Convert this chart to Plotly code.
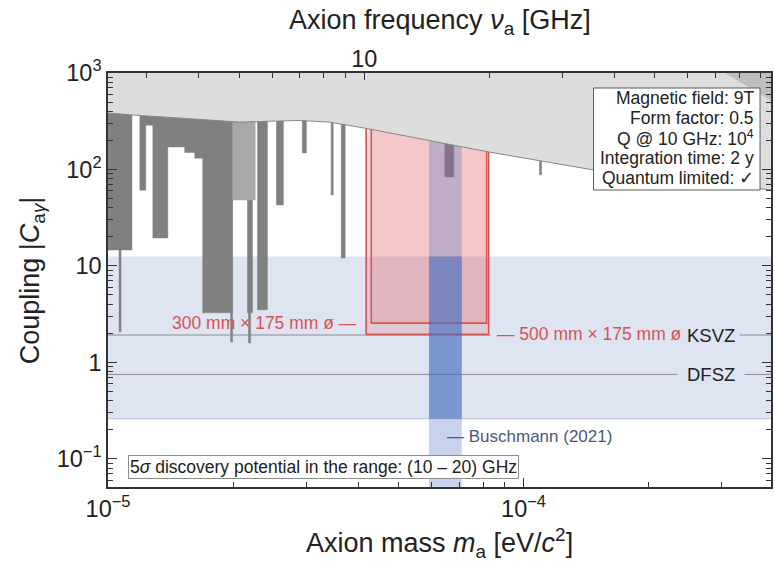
import numpy as np
import plotly.graph_objects as go

EV_PER_GHZ = 4.135667e-6  # axion mass [eV] per GHz of frequency

# plotted extents
m_min, m_max = 1.0e-5, 3.94e-4
c_min, c_max = 0.051, 1.0e3

# existing haloscope exclusions (dark grey): mass interval [eV] and lowest excluded |C_ag|
halo_m_lo = [1.000e-5, 1.063e-5, 1.193e-5, 1.233e-5, 1.282e-5, 1.393e-5, 1.530e-5, 1.617e-5,
             1.690e-5, 1.972e-5, 2.166e-5, 2.178e-5, 2.289e-5, 2.543e-5, 2.935e-5, 3.444e-5,
             3.641e-5, 6.465e-5, 1.0925e-4]
halo_m_hi = [1.142e-5, 1.075e-5, 1.233e-5, 1.282e-5, 1.393e-5, 1.530e-5, 1.617e-5, 1.690e-5,
             1.994e-5, 1.994e-5, 2.227e-5, 2.204e-5, 2.419e-5, 2.643e-5, 3.001e-5, 3.483e-5,
             3.722e-5, 6.795e-5, 1.1047e-4]
halo_c_lo = [14.6, 2.07, 61.0, 288.0, 19.5, 171.0, 150.0, 131.0,
             3.26, 1.63, 3.26, 1.59, 3.5, 42.9, 148.0, 54.4,
             12.1, 83.6, 87.7]

# lighter grey exclusion block
halo2_m_lo = [1.994e-5]
halo2_m_hi = [2.264e-5]
halo2_c_lo = [48.0]

# upper bound (light grey region above the curve)
bound_m = [1.0e-5, 1.148e-5, 2.073e-5, 2.886e-5, 3.406e-5, 4.134e-5, 8.24e-5, 1.472e-4, 3.94e-4]
bound_c = [385.0, 367.0, 310.0, 322.0, 310.0, 269.0, 152.0, 98.8, 61.3]

# corner limit (top right)
corner_m = [3.05e-4, 3.94e-4, 3.94e-4]
corner_c = [1000.0, 1000.0, 520.0]

# projected 5 sigma discovery reach for the two cavities
cav_names = ["300 mm × 175 mm ø", "500 mm × 175 mm ø"]
cav_m_lo = [4.30e-5, 4.18e-5]
cav_m_hi = [8.15e-5, 8.24e-5]
cav_c_lo = [2.55, 1.95]

# QCD axion band and benchmark models
band_c = [0.26, 12.5]
ksvz_c = 1.92
dfsz_c = 0.75

# Buschmann (2021) mass prediction
busch_m = [5.92e-5, 7.10e-5]

# experiment parameters
params = ["Magnetic field: 9T", "Form factor: 0.5", "Q @ 10 GHz: 10<sup>4</sup>",
          "Integration time: 2 y", "Quantum limited: ✓"]

# axis ticks
x_major = [1e-5, 1e-4]
x_major_text = ["10<sup>−5</sup>", "10<sup>−4</sup>"]
x_minor = [k * 1e-5 for k in range(2, 10)] + [2e-4, 3e-4]
f_major = [10]
f_minor = [3, 4, 5, 6, 7, 8, 9, 20, 30, 40, 50, 60, 70, 80, 90]
y_major = [0.1, 1, 10, 100, 1000]
y_major_text = ["10<sup>−1</sup>", "1", "10", "10<sup>2</sup>", "10<sup>3</sup>"]
y_minor = [k * 10.0 ** d for d in range(-2, 3) for k in range(2, 10)]

FONT = "Liberation Sans, Arial, Helvetica, sans-serif"
BAND_COL = "#dfe4f2"
RED = "rgb(214,82,82)"
TXT = "#222"

# plot-area pixel geometry used to place paper-referenced text
L, R, T, B = 108, 773, 73, 487


def px(xp):
    return (xp - L) / (R - L)


def py(yp):
    return (B - yp) / (B - T)


def rect_path(lo, hi, bottom, top):
    xs, ys = [], []
    for a, b, c in zip(lo, hi, bottom):
        xs += [a, b, b, a, a, None]
        ys += [c, c, top, top, c, None]
    return xs, ys


fig = go.Figure()

# QCD band
bx, by = rect_path([m_min], [m_max], [band_c[0]], band_c[1])
fig.add_trace(go.Scatter(x=bx, y=by, fill="toself", fillcolor=BAND_COL, mode="lines",
                         line=dict(width=0), hoverinfo="skip"))
fig.add_trace(go.Scatter(x=[m_min, m_max], y=[band_c[0], band_c[0]], mode="lines",
                         line=dict(color="rgba(150,160,185,0.7)", width=0.8), hoverinfo="skip"))

# haloscope exclusions
hx, hy = rect_path(halo_m_lo, halo_m_hi, halo_c_lo, c_max)
fig.add_trace(go.Scatter(x=hx, y=hy, fill="toself", fillcolor="rgb(128,128,128)", mode="lines",
                         line=dict(width=0.5, color="rgb(128,128,128)"), hoverinfo="skip"))
hx2, hy2 = rect_path(halo2_m_lo, halo2_m_hi, halo2_c_lo, c_max)
fig.add_trace(go.Scatter(x=hx2, y=hy2, fill="toself", fillcolor="rgb(168,168,168)", mode="lines",
                         line=dict(width=0), hoverinfo="skip"))

# KSVZ / DFSZ benchmark lines
for cval in (ksvz_c, dfsz_c):
    fig.add_trace(go.Scatter(x=[m_min, m_max], y=[cval, cval], mode="lines",
                             line=dict(color="rgb(140,140,140)", width=1), hoverinfo="skip"))

# cavity reach boxes
for lo, hi, cb in zip(cav_m_lo, cav_m_hi, cav_c_lo):
    rx, ry = rect_path([lo], [hi], [cb], c_max)
    fig.add_trace(go.Scatter(x=rx, y=ry, fill="toself", fillcolor="rgba(230,100,100,0.2)",
                             mode="lines", line=dict(color=RED, width=1.6), hoverinfo="skip"))

# Buschmann prediction
bpx, bpy = rect_path([busch_m[0]], [busch_m[1]], [c_min], c_max)
fig.add_trace(go.Scatter(x=bpx, y=bpy, fill="toself", fillcolor="rgba(68,108,192,0.3)",
                         mode="lines", line=dict(width=0), hoverinfo="skip"))
bpx2, bpy2 = rect_path([busch_m[0]], [busch_m[1]], [band_c[0]], band_c[1])
fig.add_trace(go.Scatter(x=bpx2, y=bpy2, fill="toself", fillcolor="rgba(68,108,192,0.5)",
                         mode="lines", line=dict(width=0), hoverinfo="skip"))

# upper bound region
fig.add_trace(go.Scatter(x=bound_m + [m_max, m_min], y=bound_c + [c_max, c_max], fill="toself",
                         fillcolor="rgb(221,221,221)", mode="lines", line=dict(width=0),
                         hoverinfo="skip"))
fig.add_trace(go.Scatter(x=bound_m, y=bound_c, mode="lines",
                         line=dict(color="rgb(135,135,135)", width=1), hoverinfo="skip"))
fig.add_trace(go.Scatter(x=corner_m, y=corner_c, fill="toself", fillcolor="rgb(190,190,190)",
                         mode="lines", line=dict(width=0), hoverinfo="skip"))

# frequency axis carrier
fig.add_trace(go.Scatter(x=[m_min / EV_PER_GHZ, m_max / EV_PER_GHZ], y=[c_min, c_min],
                         xaxis="x2", mode="markers", marker=dict(opacity=0), hoverinfo="skip"))

annotations = [
    dict(text=cav_names[0] + " —", x=np.log10(cav_m_lo[1]), y=np.log10(cav_c_lo[0]),
         xref="x", yref="y", xanchor="right", yanchor="middle", xshift=-7, showarrow=False,
         font=dict(size=17.5, color=RED, family=FONT)),
    dict(text="— " + cav_names[1], x=np.log10(cav_m_hi[1]), y=np.log10(cav_c_lo[1]),
         xref="x", yref="y", xanchor="left", yanchor="middle", xshift=1, showarrow=False,
         bgcolor=BAND_COL, borderpad=6,
         font=dict(size=17.5, color=RED, family=FONT)),
    dict(text="KSVZ", x=px(742), y=np.log10(ksvz_c), xref="paper", yref="y",
         xanchor="right", yanchor="middle", showarrow=False, bgcolor=BAND_COL, borderpad=4,
         font=dict(size=18.5, color=TXT, family=FONT)),
    dict(text="DFSZ", x=px(747), y=np.log10(dfsz_c), xref="paper", yref="y",
         xanchor="right", yanchor="middle", showarrow=False, bgcolor=BAND_COL, borderpad=9,
         font=dict(size=18.5, color=TXT, family=FONT)),
    dict(text="— Buschmann (2021)", x=np.log10(np.sqrt(busch_m[0] * busch_m[1])),
         y=np.log10(0.17), xref="x", yref="y", xanchor="left", yanchor="middle",
         showarrow=False, font=dict(size=17, color="rgb(75,88,125)", family=FONT)),
    dict(text="5<i>σ</i> discovery potential in the range: (10 – 20) GHz",
         x=px(128), y=py(466.5), xref="paper", yref="paper",
         xanchor="left", yanchor="middle", showarrow=False, bgcolor="white",
         bordercolor="rgb(140,140,140)", borderwidth=1, borderpad=1,
         font=dict(size=17.5, color=TXT, family=FONT)),
    dict(text="Axion frequency <i>ν</i><sub>a</sub> [GHz]", x=0.5, y=py(22),
         xref="paper", yref="paper", xanchor="center", yanchor="middle", showarrow=False,
         font=dict(size=27, color=TXT, family=FONT)),
    dict(text="Axion mass <i>m</i><sub>a</sub> [eV/<i>c</i><sup>2</sup>]", x=0.5,
         y=py(543), xref="paper", yref="paper", xanchor="center", yanchor="middle",
         showarrow=False, font=dict(size=27, color=TXT, family=FONT)),
    dict(text="Coupling |<i>C</i><sub>a<i>γ</i></sub>|", x=px(32), y=0.5,
         xref="paper", yref="paper", xanchor="center", yanchor="middle", textangle=-90,
         showarrow=False, font=dict(size=27, color=TXT, family=FONT)),
]

# parameter box: one line per entry, tight spacing
for i, line in enumerate(params):
    annotations.append(dict(text=line, x=px(758), y=py(98 + 20 * i), xref="paper",
                            yref="paper", xanchor="right", yanchor="middle", showarrow=False,
                            font=dict(size=17.5, color=TXT, family=FONT)))

shapes = [dict(type="rect", xref="paper", yref="paper", x0=px(595), x1=px(762),
               y0=py(190), y1=py(88), fillcolor="white",
               line=dict(color="rgb(90,90,90)", width=1), layer="above")]

axis_common = dict(showgrid=False, zeroline=False, ticks="inside", tickcolor="#333",
                   tickwidth=1, tickfont=dict(size=23.5, color=TXT, family=FONT))

fig.update_layout(
    width=775, height=561,
    margin=dict(l=L, r=775 - R, t=T, b=561 - B),
    paper_bgcolor="white", plot_bgcolor="white",
    showlegend=False,
    font=dict(family=FONT, color=TXT),
    xaxis=dict(type="log", range=[np.log10(m_min), np.log10(m_max)],
               tickmode="array", tickvals=x_major, ticktext=x_major_text, ticklen=9,
               minor=dict(tickmode="array", tickvals=x_minor, ticks="inside", ticklen=5,
                          tickcolor="#333"),
               showline=True, linecolor="#333", linewidth=1.5, mirror=True, **axis_common),
    xaxis2=dict(type="log", overlaying="x", side="top", anchor="y",
                range=[np.log10(m_min / EV_PER_GHZ), np.log10(m_max / EV_PER_GHZ)],
                tickmode="array", tickvals=f_major, ticktext=["10"], ticklen=7,
                minor=dict(tickmode="array", tickvals=f_minor, ticks="inside", ticklen=5,
                           tickcolor="#333"),
                showline=False, **axis_common),
    yaxis=dict(type="log", range=[np.log10(c_min), np.log10(c_max)],
               tickmode="array", tickvals=y_major, ticktext=y_major_text, ticklen=9,
               minor=dict(tickmode="array", tickvals=y_minor, ticks="inside", ticklen=5,
                          tickcolor="#333"),
               showline=True, linecolor="#333", linewidth=1.5, mirror="ticks", **axis_common),
    annotations=annotations,
    shapes=shapes,
)

fig.write_html("out.html")
